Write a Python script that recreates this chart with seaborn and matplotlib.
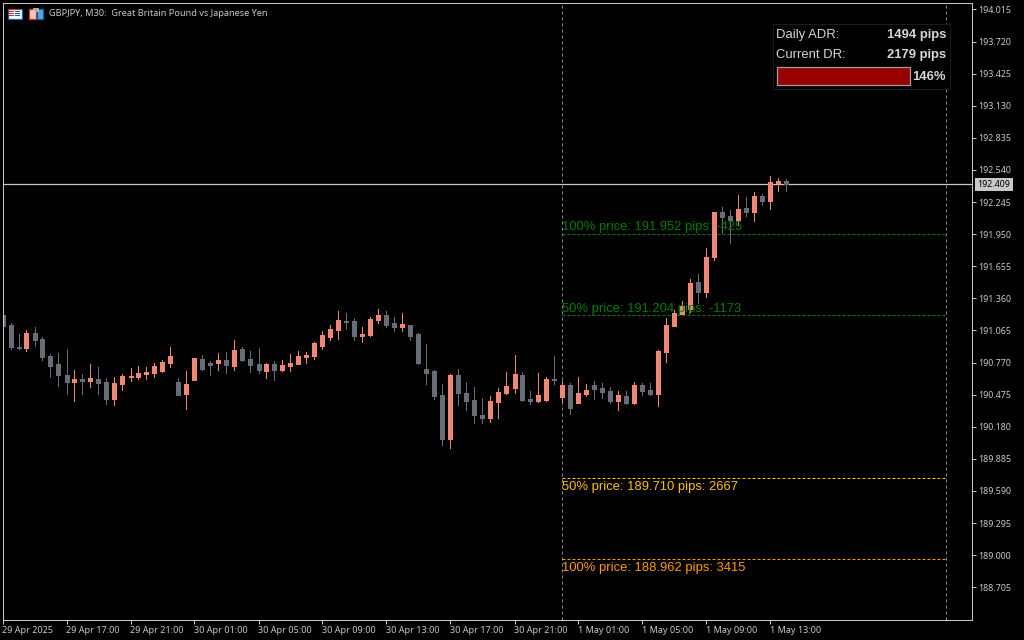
import matplotlib
matplotlib.use("Agg")
import matplotlib.pyplot as plt
from matplotlib.patches import Rectangle
import numpy as np
import pandas as pd
import seaborn as sns

# bougies M30, GBPJPY
opens = [191.207, 191.115, 190.913, 190.904, 191.042, 190.987, 190.830, 190.757, 190.656, 190.591,
         190.619, 190.601, 190.619, 190.591, 190.435, 190.573, 190.637, 190.637, 190.665, 190.674,
         190.692, 190.766, 190.591, 190.481, 190.610, 190.803, 190.766, 190.766, 190.794, 190.738,
         190.895, 190.803, 190.757, 190.692, 190.757, 190.702, 190.738, 190.757, 190.821, 190.830,
         190.922, 191.005, 191.069, 191.152, 191.152, 191.014, 191.023, 191.161, 191.207, 191.134,
         191.097, 191.115, 191.033, 190.711, 190.692, 190.472, 190.068, 190.656, 190.490, 190.426,
         190.288, 190.261, 190.408, 190.490, 190.536, 190.656, 190.435, 190.417, 190.426, 190.619,
         190.454, 190.564, 190.398, 190.481, 190.564, 190.536, 190.509, 190.417, 190.463, 190.398,
         190.564, 190.518, 190.481, 190.867, 191.106, 191.216, 191.262, 191.510, 191.419, 191.740,
         192.154, 192.117, 192.080, 192.190, 192.154, 192.301, 192.255, 192.420, 192.439]
highs = [191.207, 191.134, 191.033, 191.069, 191.097, 191.005, 190.849, 190.858, 190.895, 190.702,
         190.665, 190.757, 190.729, 190.628, 190.637, 190.665, 190.720, 190.738, 190.729, 190.766,
         190.794, 190.913, 190.628, 190.692, 190.812, 190.840, 190.784, 190.858, 190.867, 190.977,
         190.913, 190.876, 190.904, 190.766, 190.784, 190.794, 190.849, 190.876, 190.867, 190.959,
         191.060, 191.115, 191.244, 191.226, 191.180, 191.097, 191.189, 191.262, 191.244, 191.189,
         191.226, 191.115, 191.042, 190.941, 190.702, 190.573, 190.665, 190.711, 190.591, 190.545,
         190.444, 190.463, 190.536, 190.683, 190.840, 190.683, 190.509, 190.674, 190.637, 190.830,
         190.601, 190.582, 190.637, 190.573, 190.601, 190.582, 190.545, 190.509, 190.509, 190.591,
         190.582, 190.582, 190.886, 191.180, 191.253, 191.336, 191.538, 191.584, 191.823, 192.154,
         192.200, 192.172, 192.310, 192.292, 192.338, 192.319, 192.485, 192.466, 192.457]
lows = [191.106, 190.895, 190.895, 190.876, 190.922, 190.794, 190.637, 190.555, 190.481, 190.417,
        190.481, 190.545, 190.481, 190.389, 190.380, 190.518, 190.601, 190.619, 190.619, 190.637,
        190.683, 190.729, 190.472, 190.343, 190.610, 190.702, 190.656, 190.702, 190.674, 190.702,
        190.784, 190.683, 190.674, 190.628, 190.610, 190.692, 190.692, 190.757, 190.766, 190.803,
        190.895, 190.977, 190.987, 191.078, 190.977, 190.959, 191.014, 191.134, 191.097, 191.060,
        191.060, 190.977, 190.757, 190.573, 190.435, 190.012, 189.985, 190.380, 190.334, 190.215,
        190.215, 190.224, 190.261, 190.481, 190.490, 190.417, 190.389, 190.408, 190.417, 190.573,
        190.408, 190.298, 190.398, 190.463, 190.435, 190.444, 190.398, 190.334, 190.389, 190.389,
        190.472, 190.472, 190.371, 190.775, 191.106, 191.216, 191.235, 191.317, 191.373, 191.713,
        191.961, 191.869, 192.034, 192.117, 192.071, 192.218, 192.181, 192.347, 192.347]
closes = [191.106, 190.913, 190.904, 191.042, 190.977, 190.821, 190.738, 190.656, 190.591, 190.619,
          190.601, 190.628, 190.582, 190.435, 190.582, 190.647, 190.647, 190.674, 190.683, 190.738,
          190.775, 190.830, 190.472, 190.573, 190.812, 190.711, 190.748, 190.794, 190.748, 190.886,
          190.794, 190.748, 190.702, 190.757, 190.702, 190.748, 190.766, 190.830, 190.840, 190.950,
          191.023, 191.078, 191.161, 191.143, 191.014, 191.033, 191.170, 191.207, 191.115, 191.097,
          191.124, 191.014, 190.766, 190.674, 190.463, 190.068, 190.656, 190.490, 190.417, 190.288,
          190.261, 190.417, 190.500, 190.555, 190.665, 190.426, 190.417, 190.472, 190.619, 190.610,
          190.564, 190.353, 190.490, 190.518, 190.527, 190.500, 190.417, 190.472, 190.398, 190.564,
          190.509, 190.481, 190.876, 191.115, 191.226, 191.290, 191.501, 191.419, 191.740, 192.154,
          192.108, 192.080, 192.181, 192.154, 192.301, 192.255, 192.429, 192.439, 192.409]

price_ticks = [194.015, 193.720, 193.425, 193.130, 192.835, 192.540, 192.245, 191.950, 191.655, 191.360,
               191.065, 190.770, 190.475, 190.180, 189.885, 189.590, 189.295, 189.000, 188.705]
time_labels = ["29 Apr 2025", "29 Apr 17:00", "29 Apr 21:00", "30 Apr 01:00", "30 Apr 05:00",
               "30 Apr 09:00", "30 Apr 13:00", "30 Apr 17:00", "30 Apr 21:00", "1 May 01:00",
               "1 May 05:00", "1 May 09:00", "1 May 13:00"]

level_prices = [191.952, 191.204, 189.710, 188.962]
level_labels = ["100% price: 191.952 pips: -425", "50% price: 191.204 pips: -1173",
                "50% price: 189.710 pips: 2667", "100% price: 188.962 pips: 3415"]
level_colors = ["#007C00", "#007C00", "#FFC000", "#FF9C00"]
last_price = 192.409

UP = "#F08676"
DOWN = "#666D76"
FG = "#C8C8C8"

sns.set_theme(style="dark", rc={"figure.facecolor": "black", "axes.facecolor": "black"})
plt.rcParams["font.family"] = ["Noto Sans", "DejaVu Sans"]

fig = plt.figure(figsize=(10.24, 6.4), dpi=100, facecolor="black")
ax = fig.add_axes([2.5 / 1024, 20.5 / 640, 969 / 1024, 617 / 640])


def fx(x):
    return x / 1024


def fy(y):
    return 1 - y / 640


def box(x0, y0, w, h, **kw):
    # rectangle en pixels de l'image, (x0, y0) = coin haut gauche
    fig.add_artist(Rectangle((fx(x0), fy(y0 + h)), w / 1024, h / 640, transform=fig.transFigure, **kw))


# Préparation des données en format long
n = len(opens)
idx = np.arange(n)
o = np.array(opens)
c = np.array(closes)
sens = np.where(c >= o, "up", "down")
palette = {"up": UP, "down": DOWN}
wicks = pd.concat([
    pd.DataFrame({"i": idx, "price": highs, "sens": sens}),
    pd.DataFrame({"i": idx, "price": lows, "sens": sens}),
])
bodies = pd.concat([
    pd.DataFrame({"i": idx, "price": opens, "sens": sens}),
    pd.DataFrame({"i": idx, "price": closes, "sens": sens}),
])

# Mèches puis corps des bougies
sns.lineplot(data=wicks, x="i", y="price", hue="sens", units="i", estimator=None, palette=palette,
             sort=False, legend=False, lw=0.72, ax=ax, zorder=2.4, solid_capstyle="butt", antialiased=False)
sns.lineplot(data=bodies, x="i", y="price", hue="sens", units="i", estimator=None, palette=palette,
             sort=False, legend=False, lw=3.6, ax=ax, zorder=2.5, solid_capstyle="butt", antialiased=False)

# Lignes verticales, prix courant, niveaux
for v in [70, 118]:
    ax.axvline(v, color="#8A8A8A", lw=0.72, ls=(0, (3, 3)), zorder=1)
ax.axhline(last_price, color=FG, lw=0.9, zorder=1)
for price, label, col in zip(level_prices, level_labels, level_colors):
    ax.hlines(price, 70, 118, color=col, lw=0.72, ls=(0, (3, 2)), zorder=1)
    below = price < 190
    ax.annotate(label, xy=(70, price), xytext=(0, -2.2 if below else 0.6), textcoords="offset points",
                va="top" if below else "bottom", ha="left", color=col, fontsize=9.35,
                family="Liberation Sans", zorder=3)

# Mise en forme des axes
ax.set_xlim(0, 121.125)
ax.set_ylim(188.409, 194.079)
ax.set_xlabel("")
ax.set_ylabel("")
ax.set_xticks(np.arange(len(time_labels)) * 8)
ax.set_xticklabels(time_labels, ha="left")
ax.set_yticks(price_ticks)
ax.set_yticklabels([f"{p:.3f}" for p in price_ticks])
ax.yaxis.tick_right()
ax.tick_params(axis="x", bottom=True, length=3, width=0.72, color=FG, labelcolor=FG, labelsize=6.5, pad=1.5)
ax.tick_params(axis="y", right=True, left=False, length=3, width=0.72, color=FG, labelcolor=FG, labelsize=6.4, pad=1.5)
ax.grid(False)
for s in ax.spines.values():
    s.set_visible(True)
    s.set_color(FG)
    s.set_linewidth(0.72)

# Étiquette du dernier prix
box(975, 178, 38, 13, fc=FG, ec="none")
fig.text(fx(994), fy(184.7), f"{last_price:.3f}", color="black", fontsize=6.4, ha="center", va="center")

# Titre et petites icônes
box(7.5, 8.5, 14, 10, fc="white", ec="#1060B0", lw=0.9)
box(7.5, 8.5, 14, 1.5, fc="#D83020", ec="none")
for y_s in [11, 13, 15]:
    box(9, y_s, 5, 1, fc="#D83020", ec="none")
    box(15, y_s, 5, 1, fc="#1060B0", ec="none")
box(28.5, 8.5, 7, 10, fc="#F8C8C0", ec="#D83020", lw=0.9)
box(36.5, 8.5, 6, 10, fc="#50A8E0", ec="#1060B0", lw=0.9)
box(33, 7.5, 5, 3, fc="#B0B0B0", ec="#D0D0D0", lw=0.5)
fig.text(fx(49), fy(13.5), "GBPJPY, M30:  Great Britain Pound vs Japanese Yen", color=FG, fontsize=6.62,
         ha="left", va="center")

# Panneau ADR
box(772.5, 24.5, 177, 64.5, fc="black", ec="#1C1C1C", lw=0.72, zorder=4)
box(776.5, 66.5, 133, 18, fc="#990000", ec="#A0A0A0", lw=0.9, zorder=5)
panel_font = {"family": "Liberation Sans", "color": "#D8D8D8", "fontsize": 9.4, "zorder": 5}
fig.text(fx(776), fy(35), "Daily ADR:", ha="left", va="center", **panel_font)
fig.text(fx(776), fy(55), "Current DR:", ha="left", va="center", **panel_font)
fig.text(fx(946), fy(35), "1494 pips", ha="right", va="center", fontweight="bold", **panel_font)
fig.text(fx(946), fy(55), "2179 pips", ha="right", va="center", fontweight="bold", **panel_font)
fig.text(fx(946), fy(77), "146%", ha="right", va="center", fontweight="bold", **panel_font)

fig.savefig("out.png", dpi=100, facecolor="black")
